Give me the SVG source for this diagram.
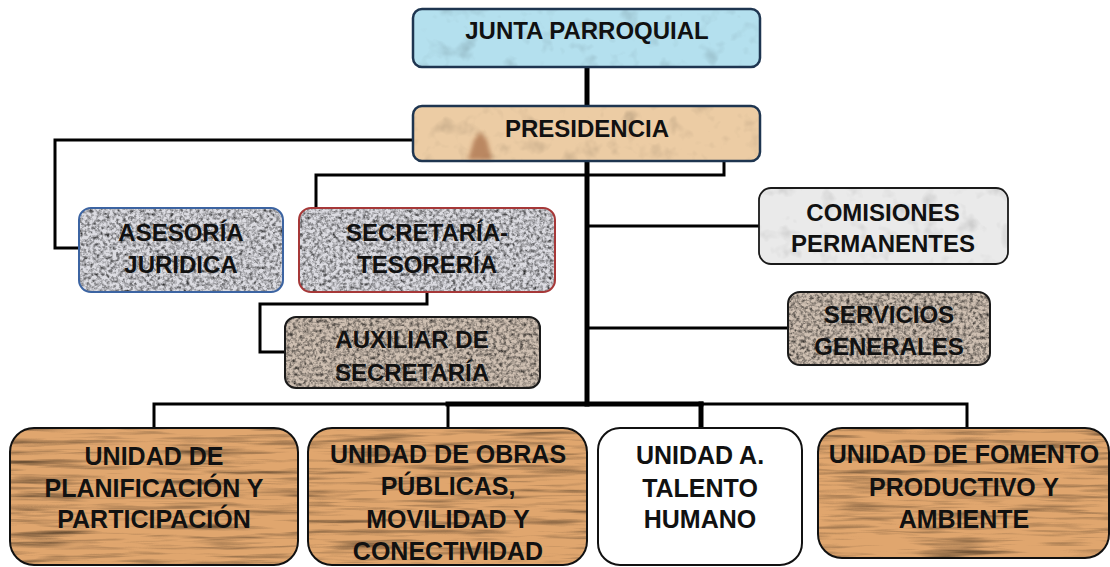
<svg xmlns="http://www.w3.org/2000/svg" width="1110" height="567" viewBox="0 0 1110 567">
<defs>
<style>
.t{font-family:"Liberation Sans",Arial,sans-serif;font-weight:bold;font-size:24px;fill:#111;text-anchor:middle}
.tb{font-size:25px}
.c{fill:none;stroke:#000;stroke-linejoin:miter;stroke-linecap:square}
.thin{stroke-width:3}
.thick{stroke-width:5}
.edge{fill:none}
</style>
<filter id="fGranite" x="0" y="0" width="1" height="1" color-interpolation-filters="sRGB">
<feTurbulence type="fractalNoise" baseFrequency="0.3" numOctaves="3" seed="4" result="n"/>
<feColorMatrix in="n" type="matrix" values="0.33 0.33 0.33 0 0 0.33 0.33 0.33 0 0 0.33 0.33 0.33 0 0 0 0 0 0 1"/>
<feComponentTransfer><feFuncR type="linear" slope="2.4" intercept="-0.35"/><feFuncG type="linear" slope="2.4" intercept="-0.35"/><feFuncB type="linear" slope="2.4" intercept="-0.35"/></feComponentTransfer>
<feBlend in2="SourceGraphic" mode="multiply"/>
<feComposite in2="SourceGraphic" operator="in"/>
</filter>
<filter id="fWood" x="0" y="0" width="1" height="1" color-interpolation-filters="sRGB">
<feTurbulence type="fractalNoise" baseFrequency="0.012 0.2" numOctaves="3" seed="7"/>
<feColorMatrix type="matrix" values="0.33 0.33 0.33 0 0 0.33 0.33 0.33 0 0 0.33 0.33 0.33 0 0 0 0 0 0 1"/>
<feComponentTransfer><feFuncR type="linear" slope="1.9" intercept="0.02"/><feFuncG type="linear" slope="1.9" intercept="0.02"/><feFuncB type="linear" slope="1.9" intercept="0.02"/></feComponentTransfer>
<feBlend in2="SourceGraphic" mode="multiply"/>
<feComposite in2="SourceGraphic" operator="in"/>
</filter>
<filter id="fSoft" x="0" y="0" width="1" height="1" color-interpolation-filters="sRGB">
<feTurbulence type="fractalNoise" baseFrequency="0.05" numOctaves="3" seed="11"/>
<feColorMatrix type="matrix" values="0.33 0.33 0.33 0 0 0.33 0.33 0.33 0 0 0.33 0.33 0.33 0 0 0 0 0 0 1"/>
<feComponentTransfer><feFuncR type="linear" slope="0.6" intercept="0.72"/><feFuncG type="linear" slope="0.6" intercept="0.72"/><feFuncB type="linear" slope="0.6" intercept="0.72"/></feComponentTransfer>
<feBlend in2="SourceGraphic" mode="multiply"/>
<feComposite in2="SourceGraphic" operator="in"/>
</filter>
<filter id="fBlur"><feGaussianBlur stdDeviation="2"/></filter>
</defs>
<rect width="1110" height="567" fill="#fff"/>

<g id="connectors">
<polyline class="c thick" points="587,67 587,404"/>
<polyline class="c thin" points="413,140 55,140 55,248 79,248"/>
<polyline class="c thin" points="724,161 724,175 316,175 316,208"/>
<polyline class="c thin" points="427,292 427,304 260,304 260,352 285,352"/>
<polyline class="c thin" points="587,226 759,226"/>
<polyline class="c thin" points="587,328 788,328"/>
<polyline class="c thin" points="154,428 154,404 448,404"/>
<polyline class="c thin" points="448,404 448,428"/>
<polyline class="c thick" points="448,404 701,404"/>
<polyline class="c thick" points="701,404 701,428"/>
<polyline class="c thin" points="701,404 967,404 967,428"/>
</g>

<g id="junta-parroquial">
<rect x="413" y="9" width="347" height="58" rx="9" fill="#b4e0ee" filter="url(#fSoft)"/>
<rect x="413" y="9" width="347" height="58" rx="9" class="edge" stroke="#1e3550" stroke-width="2.5"/>
<text class="t" x="587" y="39">JUNTA PARROQUIAL</text>
</g>

<g id="presidencia">
<rect x="413" y="106" width="347" height="55" rx="9" fill="#eccca4" filter="url(#fSoft)"/>
<path d="M468,160 L474,140 L480,132 L487,140 L492,160 Z" fill="#9a5a34" opacity="0.6" filter="url(#fBlur)"/>
<rect x="413" y="106" width="347" height="55" rx="9" class="edge" stroke="#1e3550" stroke-width="2.5"/>
<text class="t" x="587" y="137">PRESIDENCIA</text>
</g>

<g id="asesoria-juridica">
<rect x="79" y="208" width="204" height="84" rx="12" fill="#dcdce2" filter="url(#fGranite)"/>
<rect x="79" y="208" width="204" height="84" rx="12" class="edge" stroke="#3c64a2" stroke-width="2"/>
<text class="t" x="181" y="241">ASESORÍA</text>
<text class="t" x="181" y="273">JURIDICA</text>
</g>

<g id="secretaria-tesoreria">
<rect x="299" y="208" width="256" height="84" rx="12" fill="#dcdce2" filter="url(#fGranite)"/>
<rect x="299" y="208" width="256" height="84" rx="12" class="edge" stroke="#a63838" stroke-width="2"/>
<text class="t" x="427" y="241">SECRETARÍA-</text>
<text class="t" x="427" y="273">TESORERÍA</text>
</g>

<g id="auxiliar-secretaria">
<rect x="285" y="317" width="255" height="71" rx="11" fill="#cfc0b2" filter="url(#fGranite)"/>
<rect x="285" y="317" width="255" height="71" rx="11" class="edge" stroke="#1a1a1a" stroke-width="2"/>
<text class="t" x="412" y="348">AUXILIAR DE</text>
<text class="t" x="412" y="381">SECRETARÍA</text>
</g>

<g id="comisiones-permanentes">
<rect x="759" y="188" width="249" height="76" rx="12" fill="#eaeaea" filter="url(#fSoft)"/>
<rect x="759" y="188" width="249" height="76" rx="12" class="edge" stroke="#1a1a1a" stroke-width="1.8"/>
<text class="t" x="883" y="221">COMISIONES</text>
<text class="t" x="883" y="252">PERMANENTES</text>
</g>

<g id="servicios-generales">
<rect x="788" y="292" width="202" height="73" rx="12" fill="#cfc0b2" filter="url(#fGranite)"/>
<rect x="788" y="292" width="202" height="73" rx="12" class="edge" stroke="#1a1a1a" stroke-width="2"/>
<text class="t" x="889" y="323">SERVICIOS</text>
<text class="t" x="889" y="355">GENERALES</text>
</g>

<g id="unidad-planificacion">
<rect x="10" y="428" width="288" height="137" rx="24" fill="#e0a66e" filter="url(#fWood)"/>
<rect x="10" y="428" width="288" height="137" rx="24" class="edge" stroke="#111" stroke-width="2"/>
<text class="t tb" x="154" y="465">UNIDAD DE</text>
<text class="t tb" x="154" y="497">PLANIFICACIÓN Y</text>
<text class="t tb" x="154" y="528">PARTICIPACIÓN</text>
</g>

<g id="unidad-obras-publicas">
<rect x="308" y="428" width="279" height="137" rx="24" fill="#e0a66e" filter="url(#fWood)"/>
<rect x="308" y="428" width="279" height="137" rx="24" class="edge" stroke="#111" stroke-width="2"/>
<text class="t tb" x="448" y="463">UNIDAD DE OBRAS</text>
<text class="t tb" x="448" y="495">PÚBLICAS,</text>
<text class="t tb" x="448" y="528">MOVILIDAD Y</text>
<text class="t tb" x="448" y="560">CONECTIVIDAD</text>
</g>

<g id="unidad-talento-humano">
<rect x="598" y="428" width="204" height="137" rx="22" fill="#fff" stroke="#111" stroke-width="2"/>
<text class="t tb" x="700" y="464">UNIDAD A.</text>
<text class="t tb" x="700" y="497">TALENTO</text>
<text class="t tb" x="700" y="528">HUMANO</text>
</g>

<g id="unidad-fomento-productivo">
<rect x="818" y="428" width="291" height="130" rx="24" fill="#e0a66e" filter="url(#fWood)"/>
<rect x="818" y="428" width="291" height="130" rx="24" class="edge" stroke="#111" stroke-width="2"/>
<text class="t tb" x="964" y="463">UNIDAD DE FOMENTO</text>
<text class="t tb" x="964" y="496">PRODUCTIVO Y</text>
<text class="t tb" x="964" y="528">AMBIENTE</text>
</g>
</svg>
